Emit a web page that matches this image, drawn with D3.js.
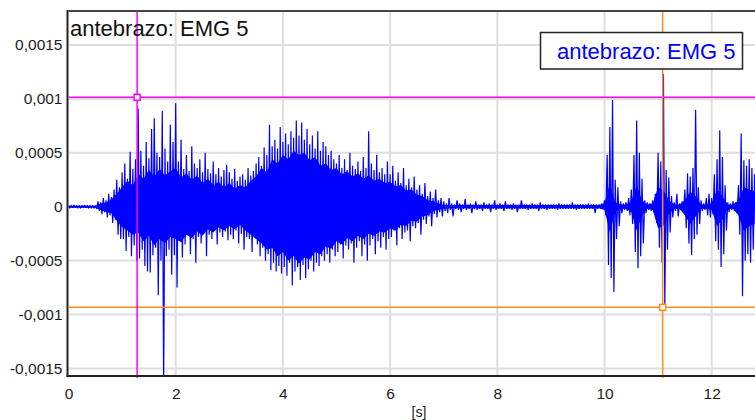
<!DOCTYPE html>
<html>
<head>
<meta charset="utf-8">
<script src="https://cdn.jsdelivr.net/npm/d3@7"></script>
<style>
  html, body { margin: 0; padding: 0; background: #fff; }
  svg { display: block; font-family: "Liberation Sans", Arial, sans-serif; }
</style>
</head>
<body>
<svg id="chart" width="755" height="420"></svg>
<script>
// EMG channel "antebrazo: EMG 5" — values in units of 1e-4 V
const channelName = "antebrazo: EMG 5";
const unit = 1e-4;

// Peak envelope per 50 ms window (maxima / minima)
const sampleStep = 0.05;
const peakHigh = [
  // 0 s
  0.1,0.1,0.15,0.1,0.1,0.1,0.15,0.1,0.1,0.1,0.1,0.5,0.4,0.8,0.6,1.2,0.9,1.6,2.5,1.8,
  // 1 s
  3.2,4.0,2.6,5.1,3.5,4.4,9.1,5.2,3.8,6.0,4.5,7.2,8.2,5.0,4.6,8.9,5.4,4.2,7.6,6.0,
  // 2 s
  9.6,4.2,6.2,3.5,4.8,3.3,5.6,4.0,3.6,4.4,3.2,5.0,3.5,3.1,4.2,3.0,3.6,2.8,3.4,3.9,
  // 3 s
  3.2,2.6,3.5,2.4,2.8,3.0,2.5,3.6,2.9,3.3,4.0,4.6,3.8,5.5,4.8,7.6,5.6,6.2,5.4,7.4,
  // 4 s
  6.0,6.8,5.8,7.0,6.4,8.0,6.6,7.8,6.2,7.2,5.8,6.6,5.4,7.0,5.2,6.0,5.6,4.8,5.2,4.4,
  // 5 s
  4.0,4.8,3.6,4.4,3.4,5.0,3.8,3.5,4.2,3.3,4.6,3.6,7.0,4.0,3.4,4.8,3.2,3.6,3.0,4.2,
  // 6 s
  3.0,3.8,2.4,3.2,2.2,3.6,2.0,2.6,1.8,2.8,1.6,2.0,1.2,2.2,1.0,1.4,0.8,1.6,0.6,0.8,
  // 7 s
  0.5,0.3,0.8,0.3,0.2,0.6,0.3,0.2,0.7,0.2,0.3,0.2,0.5,0.2,0.2,0.4,0.2,0.3,0.2,0.6,
  // 8 s
  0.2,0.3,0.2,0.5,0.2,0.2,0.3,0.2,0.2,0.6,0.2,0.2,0.2,0.3,0.2,0.2,0.4,0.2,0.2,0.2,
  // 9 s
  0.2,0.2,0.2,0.3,0.2,0.2,0.2,0.2,0.4,0.2,0.2,0.2,0.2,0.2,0.3,0.2,0.2,0.2,0.2,0.3,
  // 10 s
  0.6,4.8,7.4,9.9,2.5,1.8,0.5,0.3,0.4,0.8,1.6,4.8,8.0,5.0,2.6,0.6,0.4,0.3,0.6,1.2,
  // 11 s
  5.0,4.2,12.3,3.4,2.7,1.0,0.4,1.2,0.3,0.5,1.6,3.1,2.8,3.6,9.0,1.8,0.6,0.3,0.8,1.2,
  // 12 s
  0.8,3.0,4.4,7.1,4.6,2.0,0.4,0.3,0.5,0.4,2.0,6.8,4.3,3.8,4.4,3.6,3.0,2.5
];
const peakLow = [
  // 0 s
  -0.1,-0.1,-0.1,-0.15,-0.1,-0.1,-0.1,-0.1,-0.15,-0.1,-0.2,-0.4,-0.7,-0.5,-1.0,-0.8,-1.5,-1.2,-2.6,-3.0,
  // 1 s
  -3.0,-4.1,-2.8,-4.6,-3.6,-5.0,-4.8,-4.0,-5.5,-6.0,-6.1,-4.5,-3.8,-8.2,-5.0,-17,-4.6,-4.0,-6.3,-4.5,
  // 2 s
  -7.5,-3.0,-4.7,-3.5,-2.6,-4.4,-3.0,-5.2,-2.8,-3.4,-2.5,-4.6,-2.6,-3.0,-2.2,-3.5,-2.4,-2.8,-2.3,-3.1,
  // 3 s
  -2.6,-3.0,-2.2,-3.4,-2.5,-4.0,-2.8,-3.0,-4.2,-2.7,-3.5,-4.6,-3.8,-5.0,-4.4,-5.9,-5.2,-6.0,-5.5,-6.2,
  // 4 s
  -5.6,-6.4,-5.2,-7.3,-6.0,-5.6,-6.8,-5.4,-6.6,-5.8,-5.0,-6.0,-5.2,-5.5,-4.6,-5.0,-4.4,-5.2,-4.0,-4.6,
  // 5 s
  -4.2,-3.5,-4.8,-3.6,-4.0,-3.4,-5.2,-3.8,-3.2,-4.6,-3.5,-5.0,-3.6,-3.0,-4.4,-3.2,-3.8,-2.8,-4.0,-3.0,
  // 6 s
  -2.8,-2.2,-3.6,-2.0,-3.0,-2.4,-2.2,-3.2,-1.8,-2.0,-1.5,-2.6,-1.2,-1.6,-0.9,-1.8,-0.7,-1.0,-0.5,-0.9,
  // 7 s
  -0.4,-0.6,-0.3,-0.9,-0.2,-0.3,-0.5,-0.2,-0.3,-0.2,-0.6,-0.2,-0.3,-0.2,-0.4,-0.2,-0.2,-0.5,-0.2,-0.3,
  // 8 s
  -0.2,-0.2,-0.4,-0.2,-0.2,-0.3,-0.2,-0.5,-0.2,-0.2,-0.2,-0.3,-0.2,-0.2,-0.2,-0.4,-0.2,-0.2,-0.3,-0.2,
  // 9 s
  -0.2,-0.2,-0.3,-0.2,-0.2,-0.2,-0.2,-0.2,-0.2,-0.3,-0.2,-0.2,-0.2,-0.2,-0.2,-0.2,-0.6,-0.2,-0.2,-0.2,
  // 10 s
  -0.8,-5.4,-6.6,-7.9,-3.0,-1.8,-0.6,-0.3,-0.4,-0.8,-1.6,-4.2,-5.7,-4.6,-3.4,-0.6,-0.3,-0.4,-0.5,-1.5,
  // 11 s
  -3.8,-5.2,-9.33,-4.0,-2.4,-1.0,-0.4,-0.9,-0.3,-0.5,-2.0,-3.4,-4.5,-3.0,-2.6,-1.6,-0.4,-0.3,-0.8,-1.0,
  // 12 s
  -0.7,-3.2,-4.0,-5.6,-4.4,-2.2,-0.5,-0.3,-0.4,-0.6,-2.6,-8.3,-5.0,-4.4,-5.2,-4.0,-3.5,-3.0
];

// Dense activity band (bulk of the samples) per 100 ms
const coreStep = 0.1;
const coreHigh = [
  0.1,0.1,0.1,0.1,0.1,0.1,0.3,0.4,0.7,1.2,
  1.8,2.4,2.0,3.0,2.6,3.4,2.8,3.5,2.9,3.3,
  3.6,2.7,3.1,2.5,2.9,2.2,2.6,2.0,2.3,1.8,
  2.2,1.7,2.0,1.8,2.4,2.8,3.6,3.2,4.4,4.0,
  4.8,4.4,5.2,4.8,5.0,4.3,4.6,3.8,4.0,3.4,
  3.6,3.0,3.3,2.8,3.1,2.6,2.9,2.4,2.6,2.2,
  2.3,1.9,2.0,1.5,1.6,1.1,1.0,0.6,0.5,0.3,
  0.15,0.15,0.15,0.15,0.15,0.15,0.15,0.15,0.15,0.15,
  0.15,0.15,0.15,0.15,0.15,0.15,0.15,0.15,0.15,0.15,
  0.15,0.15,0.15,0.15,0.15,0.15,0.15,0.15,0.15,0.15,
  0.3,2.2,0.4,0.2,0.2,0.5,2.0,0.6,0.2,0.3,
  1.8,1.5,0.6,0.2,0.2,0.6,1.4,1.0,0.2,0.2,
  0.3,1.6,1.0,0.2,0.2,0.6,1.8,1.6,1.4
];
const coreLow = [
  -0.1,-0.1,-0.1,-0.1,-0.1,-0.1,-0.3,-0.5,-0.6,-1.3,
  -1.9,-2.2,-2.6,-2.4,-3.2,-2.7,-3.6,-3.0,-3.4,-2.8,
  -3.0,-3.3,-2.6,-2.9,-2.3,-2.7,-2.1,-2.4,-1.9,-2.2,
  -1.8,-2.1,-1.7,-2.2,-2.6,-3.0,-3.4,-4.0,-3.8,-4.6,
  -4.2,-5.0,-4.6,-5.3,-4.7,-4.9,-4.2,-4.4,-3.7,-3.9,
  -3.2,-3.5,-2.9,-3.2,-2.7,-3.0,-2.5,-2.7,-2.3,-2.4,
  -2.0,-2.2,-1.7,-1.8,-1.3,-1.4,-0.9,-0.8,-0.4,-0.3,
  -0.15,-0.15,-0.15,-0.15,-0.15,-0.15,-0.15,-0.15,-0.15,-0.15,
  -0.15,-0.15,-0.15,-0.15,-0.15,-0.15,-0.15,-0.15,-0.15,-0.15,
  -0.15,-0.15,-0.15,-0.15,-0.15,-0.15,-0.15,-0.15,-0.15,-0.15,
  -0.3,-2.4,-0.5,-0.2,-0.2,-0.5,-2.2,-0.8,-0.2,-0.3,
  -2.0,-1.8,-0.6,-0.2,-0.2,-0.8,-1.6,-0.9,-0.2,-0.2,
  -0.3,-1.8,-1.2,-0.2,-0.2,-0.8,-2.2,-1.8,-1.6
];

// Axis ticks
const xTicks = [0, 2, 4, 6, 8, 10, 12];
const yTicks = [-0.0015, -0.001, -0.0005, 0, 0.0005, 0.001, 0.0015];
const xUnitLabel = "[s]";

// Measurement cursors: [time (s), value (V)]
const cursorA = [1.28, 0.001015];
const cursorB = [11.085, -0.000933];

const plot = { left: 68.5, top: 11, bottom: 376, right: 755 };

const x = d3.scaleLinear().domain([0, 13]).range([plot.left, plot.left + 13 * 53.6]);
const y = d3.scaleLinear().domain([-0.00157, 0.001815]).range([plot.bottom, plot.top]);

const locale = d3.formatLocale({ decimal: ",", thousands: ".", grouping: [3], currency: ["", ""], minus: "-" });
const fmtY = locale.format("~r");

const svg = d3.select("#chart");

svg.append("defs").append("clipPath").attr("id", "plotClip")
  .append("rect")
  .attr("x", plot.left).attr("y", plot.top)
  .attr("width", plot.right - plot.left).attr("height", plot.bottom - plot.top);

// Grid
const grid = svg.append("g").attr("stroke", "#dedede").attr("stroke-width", 2);
grid.selectAll("line.gx").data(xTicks.filter(d => d > 0)).join("line")
  .attr("x1", d => x(d)).attr("x2", d => x(d))
  .attr("y1", plot.top).attr("y2", plot.bottom);
grid.selectAll("line.gy").data(yTicks).join("line")
  .attr("x1", plot.left).attr("x2", plot.right)
  .attr("y1", d => y(d)).attr("y2", d => y(d));

const sig = svg.append("g").attr("clip-path", "url(#plotClip)");

// Solid band of the dense activity
const band = d3.area()
  .x((d, i) => x(i * coreStep))
  .y0((d, i) => y(coreLow[i] * unit))
  .y1(d => y(d * unit));
sig.append("path")
  .attr("d", band(coreHigh))
  .attr("fill", "#0000ff");

// Waveform: zig-zag between window maxima and minima
const pts = [];
peakHigh.forEach((h, i) => {
  const t = i * sampleStep;
  pts.push([t, h * unit]);
  pts.push([t + sampleStep / 2, peakLow[i] * unit]);
});
const line = d3.line().x(d => x(d[0])).y(d => y(d[1]));
sig.append("path")
  .attr("d", line(pts))
  .attr("fill", "none")
  .attr("stroke", "#0000ff")
  .attr("stroke-width", 1.2)
  .attr("stroke-linejoin", "miter")
  .attr("stroke-miterlimit", 2);

// Cursors
const cursors = [
  { c: cursorA, color: "#ff00ff" },
  { c: cursorB, color: "#ff8c1a" }
];
const cg = svg.append("g").attr("clip-path", "url(#plotClip)");
cursors.forEach(({ c, color }) => {
  cg.append("line")
    .attr("x1", plot.left).attr("x2", plot.right)
    .attr("y1", y(c[1])).attr("y2", y(c[1]))
    .attr("stroke", color).attr("stroke-width", 1.5);
  svg.append("line")
    .attr("x1", x(c[0])).attr("x2", x(c[0]))
    .attr("y1", plot.top).attr("y2", plot.bottom + 2)
    .attr("stroke", color).attr("stroke-width", 1.5);
  svg.append("rect")
    .attr("x", x(c[0]) - 3).attr("y", y(c[1]) - 3)
    .attr("width", 6).attr("height", 6)
    .attr("fill", "#fff").attr("stroke", color).attr("stroke-width", 1.5);
});

// Frame and axis lines
svg.append("line").attr("x1", plot.left).attr("x2", plot.right)
  .attr("y1", plot.top).attr("y2", plot.top)
  .attr("stroke", "#444").attr("stroke-width", 2);
svg.append("line").attr("x1", plot.left - 1).attr("x2", plot.left - 1)
  .attr("y1", plot.top - 1).attr("y2", plot.bottom + 1)
  .attr("stroke", "#222").attr("stroke-width", 2);
svg.append("line").attr("x1", plot.left - 2).attr("x2", plot.right)
  .attr("y1", plot.bottom).attr("y2", plot.bottom)
  .attr("stroke", "#222").attr("stroke-width", 2);

// Axis labels
const yAxis = d3.axisLeft(y).tickValues(yTicks).tickFormat(fmtY).tickSize(0).tickPadding(5);
const gy = svg.append("g").attr("transform", `translate(${plot.left - 1},0)`).call(yAxis);
gy.select(".domain").remove();
gy.selectAll("text").attr("font-size", 15.5).attr("fill", "#1c1c1c")
  .attr("font-family", "Liberation Sans, Arial, sans-serif");

const xAxis = d3.axisBottom(x).tickValues(xTicks).tickFormat(d => String(d)).tickSize(0).tickPadding(12);
const gx = svg.append("g").attr("transform", `translate(0,${plot.bottom})`).call(xAxis);
gx.select(".domain").remove();
gx.selectAll("text").attr("font-size", 15.5).attr("fill", "#1c1c1c")
  .attr("font-family", "Liberation Sans, Arial, sans-serif");

svg.append("text").attr("x", 419).attr("y", 416.5)
  .attr("text-anchor", "middle").attr("font-size", 14).attr("fill", "#1c1c1c")
  .text(xUnitLabel);

// Channel title
svg.append("text").attr("x", 70).attr("y", 36)
  .attr("font-size", 22).attr("fill", "#111")
  .text(channelName);

// Legend
svg.append("rect").attr("x", 540.5).attr("y", 32.5).attr("width", 202).attr("height", 36.5)
  .attr("fill", "#fff").attr("stroke", "#222").attr("stroke-width", 1.5);
svg.append("text").attr("x", 557).attr("y", 59)
  .attr("font-size", 22).attr("fill", "#0000ff")
  .text(channelName);
</script>
</body>
</html>
